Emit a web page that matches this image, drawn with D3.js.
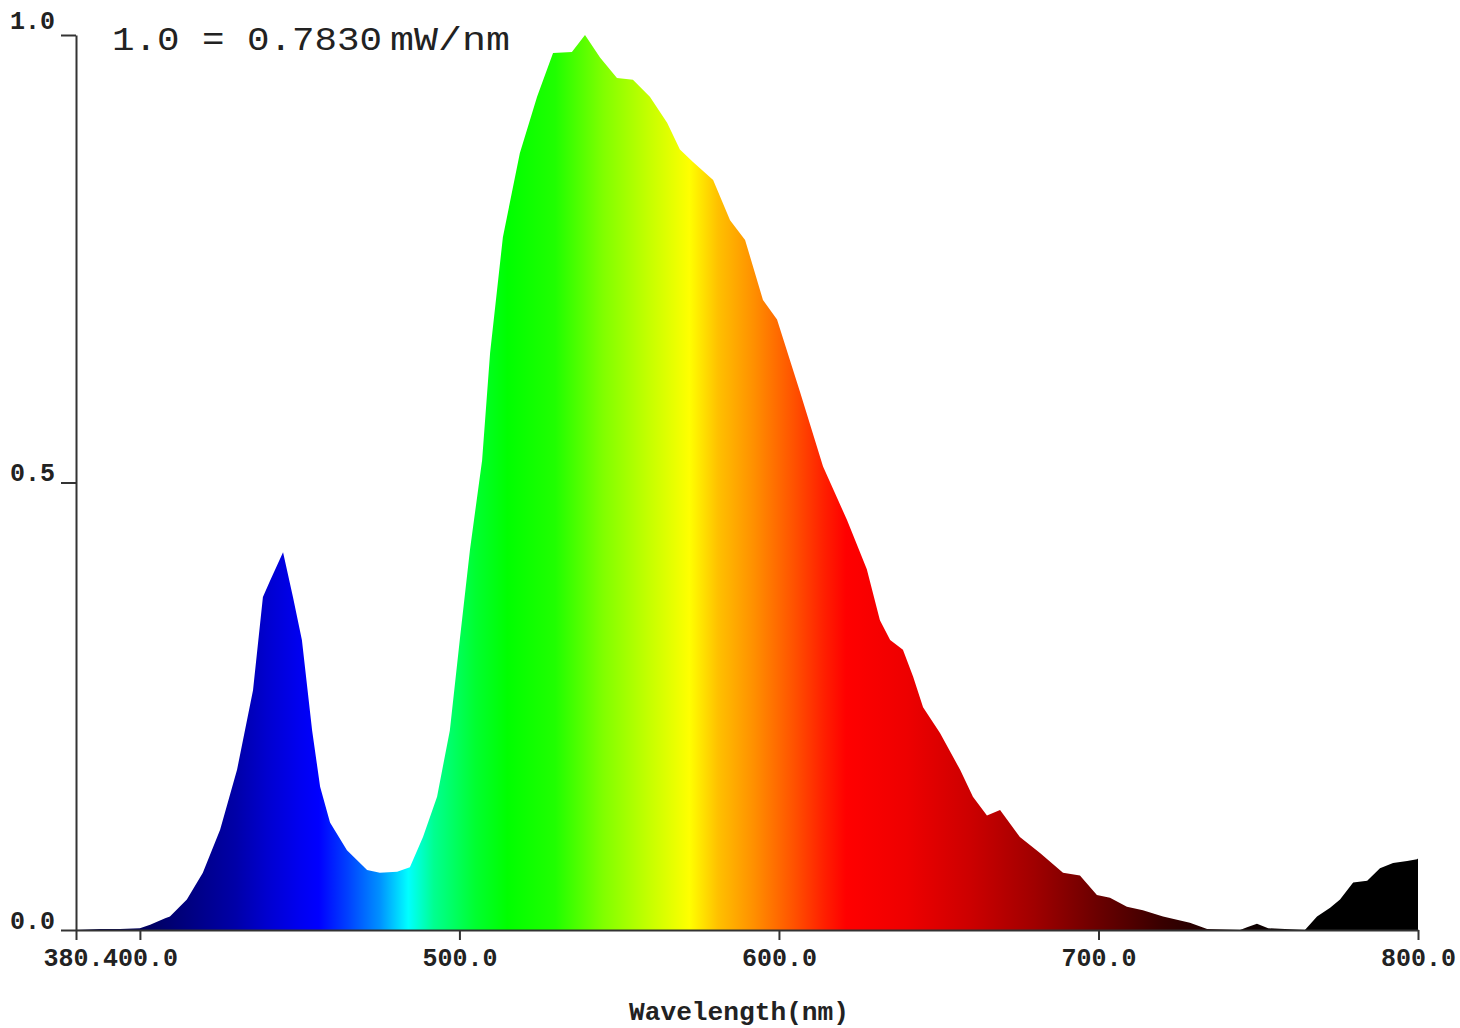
<!DOCTYPE html>
<html>
<head>
<meta charset="utf-8">
<script src="https://cdn.jsdelivr.net/npm/d3@7"></script>
<style>
    body { margin: 0; background: #fff; }
    svg { display: block; }
</style>
</head>
<body>
<div id="container"></div>
<script>
// Spectrum readings (nm, relative intensity)
const wavelengths = [
    380, 387.5, 393.8, 400, 403.2, 407.9, 409.4, 414.7, 419.7, 425.1,
    430.4, 435.4, 438.5, 440.7, 444.8, 447.9, 450.7, 453.9, 456.4, 459.5,
    464.8, 471.1, 475.1, 480.5, 484.5, 488.6, 493.0, 497.0, 500.2, 503.3,
    507.1, 509.6, 513.6, 518.9, 524.3, 529.3, 535.2, 539.3, 544.0, 549.3,
    554.3, 559.6, 565.0, 569.0, 573.1, 579.4, 584.7, 589.4, 595.0, 599.4,
    606.6, 613.8, 621.3, 627.5, 631.6, 634.8, 638.8, 642.0, 645.1, 650.4,
    656.7, 660.7, 665.1, 669.2, 675.4, 681.7, 688.9, 694.2, 699.5, 703.6,
    708.9, 713.9, 720.2, 728.6, 734.0, 744.3, 746.5, 749.6, 753.1, 764.6,
    768.4, 772.5, 775.6, 779.7, 784.1, 788.1, 792.2, 796.6, 799.7, 800
];
const intensity = [
    0.000, 0.001, 0.001, 0.002, 0.006, 0.013, 0.015, 0.034, 0.064, 0.112,
    0.179, 0.268, 0.372, 0.390, 0.422, 0.372, 0.324, 0.223, 0.160, 0.120,
    0.089, 0.067, 0.064, 0.065, 0.070, 0.104, 0.149, 0.223, 0.327, 0.425,
    0.525, 0.645, 0.774, 0.868, 0.931, 0.980, 0.981, 1.000, 0.975, 0.952,
    0.950, 0.931, 0.902, 0.872, 0.858, 0.838, 0.793, 0.771, 0.704, 0.682,
    0.601, 0.518, 0.458, 0.403, 0.346, 0.324, 0.313, 0.283, 0.249, 0.220,
    0.179, 0.149, 0.128, 0.134, 0.104, 0.086, 0.064, 0.061, 0.039, 0.036,
    0.026, 0.022, 0.015, 0.008, 0.001, 0.000, 0.003, 0.007, 0.002, 0.000,
    0.015, 0.025, 0.034, 0.053, 0.055, 0.069, 0.075, 0.077, 0.079, 0.080
];
const xTicks = [380, 400, 500, 600, 700, 800];
const yTicks = [0, 0.5, 1.0];
const scaleNote = "1.0 = 0.7830";
const scaleUnit = "mW/nm";
const xTitle = "Wavelength(nm)";

// colour of the fill at each wavelength
const spectrumNm = [380, 400, 415, 430, 440, 450, 456, 465, 475, 484, 492, 505, 515, 530, 545, 560, 572, 581, 592, 605, 614, 621, 640, 660, 680, 700, 720, 745, 770, 800];
const spectrumColor = [
    "#000050", "#00005a", "#000080", "#0000a8", "#0000d0", "#0000f0", "#0000ff", "#0040ff", "#0090ff", "#00ffff",
    "#00ff90", "#00ff30", "#00ff00", "#20ff00", "#80ff00", "#c8ff00", "#ffff00", "#ffc000", "#ff9000", "#ff5000",
    "#ff2000", "#ff0000", "#ee0000", "#cc0000", "#a00000", "#6a0000", "#380000", "#100000", "#000000", "#000000"
];

const width = 1460;
const height = 1028;
const marginLeft = 76;
const marginRight = 42;
const marginTop = 35;
const marginBottom = 98;
const monoFont = "'Liberation Mono', 'DejaVu Sans Mono', monospace";

const readings = wavelengths.map((w, i) => ({ w: w, v: intensity[i] }));

const x = d3.scaleLinear()
    .domain([380, 800])
    .range([marginLeft, width - marginRight]);

const y = d3.scaleLinear()
    .domain([0, 1])
    .range([height - marginBottom, marginTop]);

const svg = d3.select("#container").append("svg")
    .attr("width", width)
    .attr("height", height)
    .attr("viewBox", `0 0 ${width} ${height}`);

// Spectral gradient along the wavelength axis
const grad = svg.append("defs").append("linearGradient")
    .attr("id", "spectrum")
    .attr("gradientUnits", "userSpaceOnUse")
    .attr("x1", x(380)).attr("x2", x(800))
    .attr("y1", 0).attr("y2", 0);
spectrumNm.forEach((nm, i) => {
    grad.append("stop")
        .attr("offset", (nm - 380) / 420)
        .attr("stop-color", spectrumColor[i]);
});

const area = d3.area()
    .x(d => x(d.w))
    .y0(y(0))
    .y1(d => y(d.v));

svg.append("path")
    .datum(readings)
    .attr("fill", "url(#spectrum)")
    .attr("d", area);

// x-axis. The 380 label is cut short by the 400 one in the original
const fmt = d3.format(".1f");
const xAxis = svg.append("g")
    .attr("transform", `translate(0,${y(0)})`)
    .call(d3.axisBottom(x)
        .tickValues(xTicks)
        .tickFormat(d => d === 380 ? "380." : fmt(d))
        .tickSizeInner(10)
        .tickSizeOuter(0)
        .tickPadding(10));

// y-axis
const yAxis = svg.append("g")
    .attr("transform", `translate(${marginLeft},0)`)
    .call(d3.axisLeft(y)
        .tickValues(yTicks)
        .tickFormat(fmt)
        .tickSizeInner(15)
        .tickSizeOuter(0)
        .tickPadding(0));

[xAxis, yAxis].forEach(g => {
    g.select(".domain").attr("stroke", "#333").attr("stroke-width", 2);
    g.selectAll(".tick line").attr("stroke", "#333").attr("stroke-width", 2);
    g.selectAll(".tick text")
        .attr("fill", "#222")
        .style("font-family", monoFont)
        .style("font-weight", "bold")
        .style("font-size", "25px");
});

xAxis.selectAll(".tick text")
    .attr("dy", "0.65em");
xAxis.selectAll(".tick")
    .filter(d => d === 380)
    .select("text")
    .attr("text-anchor", "end")
    .attr("x", 27);

yAxis.selectAll(".tick text")
    .attr("text-anchor", "start")
    .attr("x", 10 - marginLeft)
    .attr("y", d => d === 1 ? -7 : -2)
    .attr("dy", 0);

// scale note at the top left
svg.append("text")
    .attr("x", 112)
    .attr("y", 50)
    .attr("textLength", 270)
    .attr("lengthAdjust", "spacingAndGlyphs")
    .attr("fill", "#222")
    .style("font-family", monoFont)
    .style("font-size", "34px")
    .text(scaleNote);

svg.append("text")
    .attr("x", 390)
    .attr("y", 50)
    .attr("textLength", 120)
    .attr("lengthAdjust", "spacingAndGlyphs")
    .attr("fill", "#222")
    .style("font-family", monoFont)
    .style("font-size", "33px")
    .text(scaleUnit);

// axis title
svg.append("text")
    .attr("x", 739)
    .attr("y", 1020)
    .attr("text-anchor", "middle")
    .attr("fill", "#222")
    .style("font-family", monoFont)
    .style("font-weight", "bold")
    .style("font-size", "25px")
    .attr("textLength", 220)
    .attr("lengthAdjust", "spacingAndGlyphs")
    .text(xTitle);
</script>
</body>
</html>
